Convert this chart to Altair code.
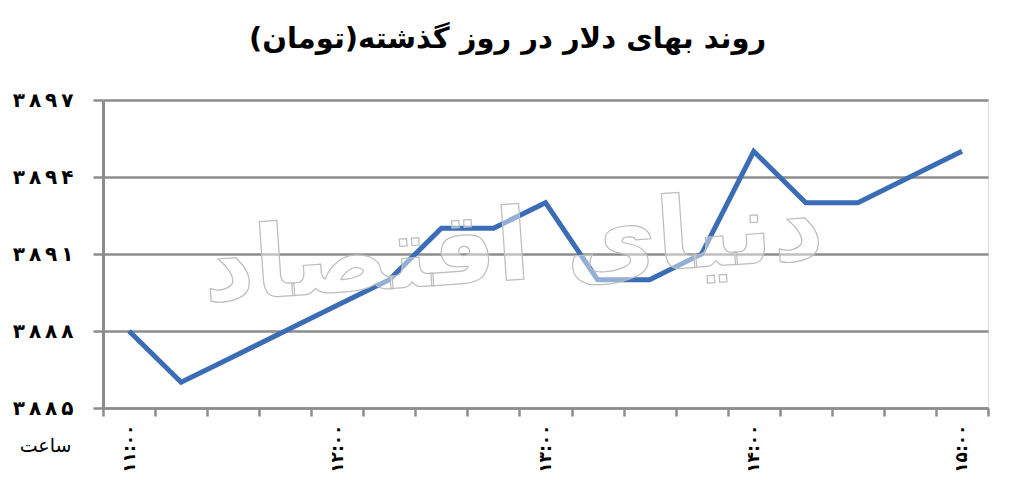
import altair as alt
import pandas as pd

# Data
times = ['۱۱:۰۰', '۱۱:۱۵', '۱۱:۳۰', '۱۱:۴۵', '۱۲:۰۰', '۱۲:۱۵', '۱۲:۳۰', '۱۲:۴۵',
         '۱۳:۰۰', '۱۳:۱۵', '۱۳:۳۰', '۱۳:۴۵', '۱۴:۰۰', '۱۴:۱۵', '۱۴:۳۰', '۱۴:۴۵', '۱۵:۰۰']
prices = [3888, 3886, 3887, 3888, 3889, 3890, 3892, 3892,
          3893, 3890, 3890, 3891, 3895, 3893, 3893, 3894, 3895]
y_ticks = [3885, 3888, 3891, 3894, 3897]
y_tick_labels = ['۳۸۸۵', '۳۸۸۸', '۳۸۹۱', '۳۸۹۴', '۳۸۹۷']
title_text = 'روند بهای دلار در روز گذشته(تومان)'
x_title = 'ساعت'
watermark_text = 'دنیای اقتصاد'

n = len(times)
df = pd.DataFrame({'slot': list(range(n)), 'time': times, 'price': prices})

THIN = '\u2009'
y_label_expr = ' : '.join(
    f"datum.value == {v} ? '{THIN.join(l)}'" for v, l in zip(y_ticks, y_tick_labels)
) + " : ''"

# category slots: ticks between categories, labels on the whole hours
x_axis_values = [i * 0.5 - 0.5 for i in range(2 * n + 1)]
x_label_expr = ' : '.join(
    f"datum.value == {i} ? '{t}'" for i, t in enumerate(times) if t.endswith(':۰۰')
) + " : ''"

FONT = 'DejaVu Sans'
GRID = '#8c8c8c'

x_enc = alt.X(
    'slot:Q',
    scale=alt.Scale(domain=[-0.5, n - 0.5], nice=False, zero=False),
    axis=alt.Axis(
        values=x_axis_values,
        title=x_title, titleAngle=0, titleX=-58, titleY=37,
        titleAlign='center', titleBaseline='middle',
        titleFont=FONT, titleFontSize=19, titleFontWeight='normal', titleColor='black',
        labelAngle=270, labelFont=FONT, labelFontSize=17, labelFontWeight='bold',
        labelColor='black', labelPadding=8, labelOverlap=False, labelFlush=False,
        labelExpr=x_label_expr,
        tickOpacity={'condition': {'test': 'datum.value % 1 != 0', 'value': 1}, 'value': 0},
        tickSize=8, tickWidth=2.5, tickColor=GRID,
        domainColor=GRID, domainWidth=2.5, grid=False,
    ),
)

y_enc = alt.Y(
    'price:Q',
    scale=alt.Scale(domain=[3885, 3897], nice=False, zero=False),
    axis=alt.Axis(
        title=None, values=y_ticks, labelExpr=y_label_expr,
        labelFont=FONT, labelFontSize=20, labelFontWeight='bold', labelColor='black',
        labelPadding=20, tickSize=10, tickWidth=2.5, tickColor=GRID,
        domainColor=GRID, domainWidth=3,
        grid=True, gridColor=GRID, gridWidth=2.5,
    ),
)

line = alt.Chart(df).mark_line(
    color='#3a6db5', strokeWidth=5, strokeJoin='miter', strokeCap='butt'
).encode(x=x_enc, y=y_enc, order='slot:Q')

wm = alt.Chart(pd.DataFrame({'t': [watermark_text]})).mark_text(
    font=FONT, fontSize=100, fontWeight='bold',
    fill='white', fillOpacity=0.45, stroke='#bdbdbd', strokeWidth=1.2,
    align='center', baseline='middle', angle=356,
).encode(
    text='t:N',
    x=alt.value(410),
    y=alt.value(150),
)

chart = alt.layer(line, wm).properties(
    width=885, height=308,
    autosize=alt.AutoSizeParams(type='none'),
    padding={'left': 95, 'top': 92, 'right': 16, 'bottom': 80},
    title=alt.TitleParams(
        text=title_text, font=FONT, fontSize=29, fontWeight='bold', color='black',
        anchor='middle', offset=36, dx=-38,
    ),
).configure_view(stroke=None).configure(background='white')

chart.save('out.html', embed_options={'renderer': 'svg', 'actions': False})
